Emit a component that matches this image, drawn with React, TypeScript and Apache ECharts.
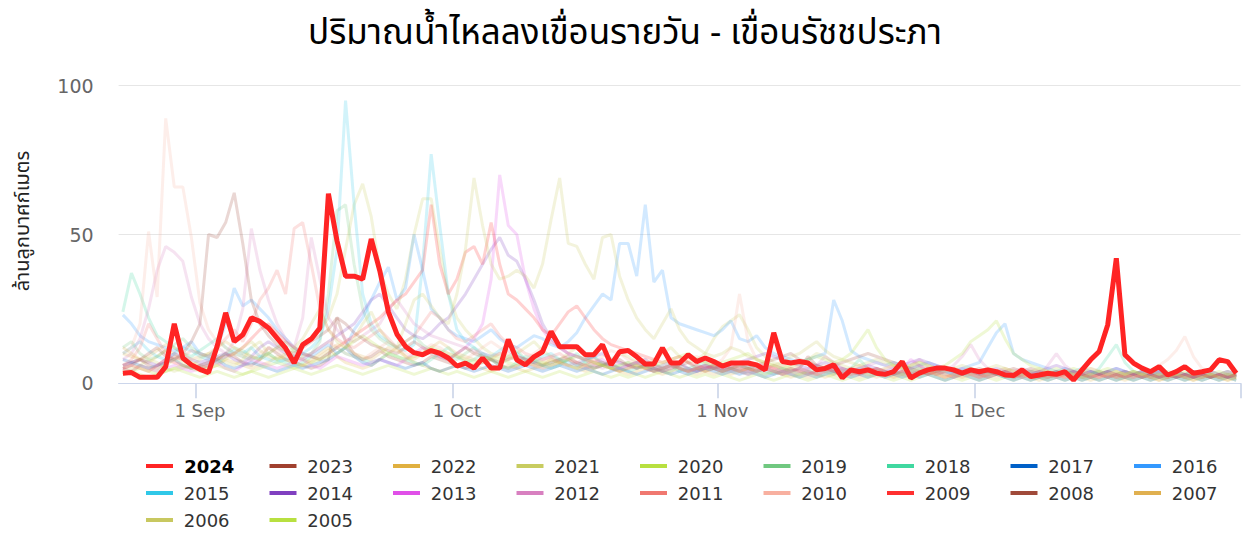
import React, { useEffect, useRef } from "react";
import * as echarts from "echarts";

const TITLE = "ปริมาณน้ำไหลลงเขื่อนรายวัน - เขื่อนรัชชประภา";
const Y_NAME = "ล้านลูกบาศก์เมตร";
const MONTHS = ["Jan", "Feb", "Mar", "Apr", "May", "Jun", "Jul", "Aug", "Sep", "Oct", "Nov", "Dec"];
const FIRST_DAY = { month: 7, day: 23 }; // 23 Aug
const DAY_COUNT = 131; // 23 Aug .. 31 Dec

const YEARS = ["2024", "2023", "2022", "2021", "2020", "2019", "2018", "2017", "2016", "2015",
  "2014", "2013", "2012", "2011", "2010", "2009", "2008", "2007", "2006", "2005"];
const COLORS = ["#ff2424", "#a0402e", "#e0b040", "#c8cc60", "#b8e040", "#70c880", "#40d8a0", "#0060c8", "#3399ff", "#30c8e8",
  "#8040c0", "#e050e8", "#d880c0", "#f07870", "#f8b0a0", "#ff3030", "#a04a3a", "#e0b050", "#c8c860", "#b8e040"];

const y2024 = [
  3.4, 3.6, 2.0, 2.0, 2.0, 5.6, 20, 8.5, 6.2, 4.7,
  3.6, 12.4, 23.7, 14, 16.3, 22, 20.8, 18.6, 15.2, 11.8,
  6.8, 13, 14.9, 18.6, 63.7, 47.9, 36, 36, 35, 48.5,
  37.8, 24, 16.5, 12.4, 10.3, 9.6, 11, 10.1, 8.5, 5.8,
  6.8, 5.1, 8.5, 5.1, 5.1, 14.7, 7.9, 6.2, 8.9, 10.6,
  17.4, 12.3, 12.3, 12.3, 9.6, 9.6, 13, 6.2, 10.6, 11,
  8.9, 6.5, 6.5, 11.9, 6.8, 6.8, 9.6, 7.3, 8.5, 7.3,
  5.8, 6.8, 6.8, 6.8, 6.2, 4.5, 17, 7.3, 6.8, 7.3,
  6.8, 4.5, 5, 6.2, 1.8, 4.5, 3.9, 4.5, 3.4, 3,
  3.9, 7.3, 1.8, 3.4, 4.5, 5.1, 5.1, 4.5, 3.4, 4.5,
  3.9, 4.5, 3.9, 2.8, 2.6, 4.5, 2.3, 2.8, 3.4, 3,
  3.9, 1.1, 4.5, 7.9, 10.7, 19.7, 42, 9.6, 6.8, 5.1,
  3.9, 5.6, 2.8, 3.9, 5.6, 3.4, 3.9, 4.5, 7.9, 7.3,
  3.4,
];
const y2023 = [
  6, 7, 8, 6, 5, 7, 9, 8, 6, 5,
  6, 8, 10, 9, 7, 6, 8, 12, 10, 8,
  7, 6, 5, 6, 8, 22, 14, 10, 8, 9,
  11, 9, 8, 7, 6, 7, 9, 8, 7, 6,
  5, 6, 7, 8, 6, 5, 6, 7, 6, 5,
  6, 7, 8, 6, 5, 6, 7, 5, 4, 5,
  6, 5, 4, 5, 6, 5, 4, 5, 6, 5,
  4, 5, 6, 5, 4, 5, 6, 5, 4, 5,
  9, 6, 5, 4, 5, 4, 3, 4, 5, 4,
  3, 4, 5, 4, 3, 4, 5, 4, 3, 4,
  3, 4, 3, 4, 5, 4, 3, 4, 3, 4,
  3, 4, 3, 4, 3, 4, 3, 4, 3, 2,
  3, 4, 3, 2, 3, 4, 3, 2, 3, 4,
  3,
];
const y2022 = [
  10, 9, 8, 7, 9, 11, 10, 8, 7, 6,
  5, 6, 8, 7, 6, 5, 6, 7, 9, 8,
  7, 6, 8, 10, 12, 9, 7, 6, 5, 6,
  8, 10, 12, 9, 7, 6, 5, 4, 5, 6,
  7, 6, 5, 4, 5, 6, 5, 4, 5, 6,
  8, 7, 6, 5, 4, 5, 6, 5, 4, 3,
  4, 5, 4, 3, 4, 5, 4, 3, 4, 5,
  4, 3, 4, 5, 4, 3, 4, 3, 2, 3,
  4, 3, 2, 3, 4, 3, 2, 3, 4, 3,
  2, 3, 2, 3, 4, 3, 2, 3, 2, 3,
  2, 3, 4, 3, 2, 3, 2, 1, 2, 3,
  2, 3, 2, 1, 2, 3, 2, 1, 2, 3,
  2, 1, 2, 3, 2, 1, 2, 3, 2, 1,
  2,
];
const y2021 = [
  5, 4, 6, 8, 7, 5, 4, 5, 6, 8,
  10, 9, 7, 6, 8, 12, 14, 10, 8, 9,
  11, 13, 15, 18, 22, 30, 45, 60, 67, 56,
  38, 30, 25, 35, 50, 62, 62, 45, 30, 22,
  18, 15, 12, 10, 9, 8, 10, 12, 14, 11,
  9, 8, 10, 12, 9, 7, 6, 8, 10, 9,
  7, 6, 8, 10, 12, 9, 7, 8, 10, 15,
  19, 21, 23, 18, 12, 9, 7, 6, 5, 6,
  8, 10, 9, 7, 6, 5, 6, 5, 4, 5,
  6, 5, 4, 5, 4, 3, 4, 5, 4, 3,
  4, 3, 4, 5, 4, 3, 4, 3, 2, 3,
  4, 3, 2, 3, 4, 3, 2, 3, 4, 3,
  2, 3, 2, 3, 2, 3, 2, 3, 2, 3,
  2,
];
const y2020 = [
  3, 4, 3, 2, 3, 4, 5, 4, 3, 2,
  3, 4, 3, 2, 3, 4, 3, 2, 3, 4,
  5, 4, 3, 4, 5, 6, 5, 4, 3, 4,
  5, 6, 5, 4, 3, 4, 5, 4, 3, 4,
  3, 2, 3, 4, 3, 2, 3, 4, 3, 2,
  3, 4, 3, 2, 3, 4, 3, 2, 3, 2,
  3, 2, 3, 4, 3, 2, 3, 2, 3, 2,
  3, 2, 1, 2, 3, 2, 1, 2, 3, 2,
  1, 2, 3, 2, 1, 2, 1, 2, 3, 2,
  1, 2, 1, 2, 3, 2, 1, 2, 1, 2,
  1, 2, 1, 2, 1, 2, 1, 2, 1, 2,
  1, 2, 1, 2, 1, 2, 1, 2, 1, 2,
  1, 2, 1, 2, 1, 2, 1, 2, 1, 2,
  1,
];
const y2019 = [
  12, 14, 10, 8, 9, 11, 13, 15, 12, 10,
  9, 8, 10, 12, 11, 9, 8, 10, 12, 14,
  11, 9, 10, 14, 30, 58, 60, 40, 25, 18,
  15, 13, 12, 14, 16, 13, 11, 10, 9, 8,
  10, 12, 9, 8, 7, 9, 11, 8, 7, 6,
  7, 8, 6, 5, 7, 9, 6, 5, 6, 7,
  5, 6, 7, 5, 4, 6, 5, 4, 5, 6,
  5, 4, 5, 6, 5, 4, 3, 4, 5, 4,
  3, 4, 5, 4, 3, 4, 5, 4, 3, 4,
  3, 4, 3, 4, 5, 4, 3, 4, 3, 4,
  3, 4, 3, 2, 3, 4, 3, 2, 3, 4,
  3, 2, 3, 4, 3, 2, 3, 4, 3, 2,
  3, 2, 3, 2, 3, 2, 3, 2, 3, 2,
  3,
];
const y2018 = [
  24, 37, 30, 22, 16, 14, 12, 10, 9, 11,
  13, 15, 12, 10, 9, 8, 9, 10, 8, 7,
  6, 7, 9, 8, 10, 12, 10, 9, 8, 7,
  8, 10, 9, 8, 7, 6, 8, 10, 12, 9,
  7, 8, 10, 8, 6, 5, 7, 9, 8, 6,
  5, 6, 8, 10, 7, 5, 6, 7, 5, 4,
  5, 6, 4, 5, 6, 4, 5, 6, 7, 5,
  4, 5, 6, 5, 4, 3, 4, 5, 4, 3,
  4, 5, 4, 3, 4, 5, 8, 5, 4, 3,
  4, 3, 4, 5, 4, 3, 4, 3, 4, 5,
  4, 3, 4, 3, 2, 3, 4, 3, 2, 3,
  4, 3, 2, 3, 5, 9, 13, 7, 4, 3,
  2, 3, 2, 3, 2, 3, 2, 3, 2, 3,
  2,
];
const y2017 = [
  8, 7, 6, 5, 6, 7, 8, 6, 5, 6,
  7, 8, 6, 5, 6, 7, 6, 5, 4, 5,
  6, 5, 6, 7, 8, 10, 12, 9, 7, 6,
  8, 7, 6, 5, 6, 7, 5, 4, 5, 6,
  5, 4, 5, 6, 5, 4, 5, 6, 5, 4,
  5, 6, 5, 4, 5, 4, 3, 4, 5, 4,
  3, 4, 5, 4, 3, 4, 3, 4, 5, 4,
  3, 4, 3, 4, 3, 2, 3, 4, 3, 2,
  3, 2, 3, 4, 3, 2, 3, 2, 3, 2,
  3, 2, 3, 2, 3, 2, 1, 2, 3, 2,
  1, 2, 3, 2, 1, 2, 1, 2, 1, 2,
  1, 2, 1, 2, 1, 2, 1, 2, 1, 2,
  1, 2, 1, 2, 1, 2, 1, 2, 1, 2,
  1,
];
const y2016 = [
  23, 20, 16, 14, 13, 12, 11, 12, 14, 10,
  9, 12, 20, 32, 26, 28, 25, 22, 18, 15,
  12, 10, 9, 11, 13, 10, 12, 18, 22, 28,
  34, 39, 28, 32, 50, 38, 25, 22, 18, 16,
  15, 14, 16, 18, 15, 13, 12, 14, 16, 15,
  13, 12, 14, 17, 22, 26, 30, 28, 47, 47,
  36, 60, 34, 38, 22, 20, 19, 18, 17, 16,
  18, 21, 15, 14, 16, 12, 10, 9, 8, 7,
  8, 9, 10, 28, 21, 11, 9, 8, 7, 6,
  7, 6, 5, 6, 7, 6, 5, 4, 5, 6,
  7, 12, 17, 20, 10, 8, 7, 6, 5, 4,
  5, 4, 5, 4, 3, 4, 5, 4, 3, 4,
  3, 4, 3, 4, 3, 4, 3, 4, 3, 4,
  3,
];
const y2015 = [
  10, 12, 14, 11, 9, 8, 10, 12, 11, 9,
  8, 7, 9, 11, 10, 12, 9, 8, 7, 8,
  9, 10, 12, 15, 25, 45, 95, 60, 30, 20,
  16, 14, 12, 11, 13, 40, 77, 53, 30, 18,
  14, 12, 10, 9, 11, 13, 10, 8, 7, 9,
  10, 8, 7, 6, 8, 9, 7, 6, 5, 6,
  7, 6, 5, 6, 7, 5, 4, 5, 6, 5,
  4, 5, 4, 3, 4, 5, 4, 3, 4, 5,
  4, 3, 4, 5, 4, 3, 4, 3, 4, 3,
  4, 3, 4, 3, 4, 5, 4, 3, 4, 3,
  2, 3, 4, 3, 2, 3, 4, 3, 2, 3,
  4, 3, 2, 3, 4, 3, 2, 3, 2, 3,
  2, 3, 2, 3, 2, 3, 2, 3, 2, 3,
  2,
];
const y2014 = [
  6, 7, 8, 7, 6, 8, 10, 9, 8, 7,
  8, 9, 10, 8, 7, 9, 12, 14, 12, 10,
  9, 8, 10, 12, 14, 16, 18, 20, 24, 28,
  30, 26, 22, 18, 16, 15, 17, 20, 22, 26,
  30, 35, 40, 45, 49, 43, 41, 35, 28, 20,
  15, 12, 10, 9, 8, 9, 10, 8, 7, 6,
  7, 8, 6, 5, 6, 7, 5, 4, 5, 6,
  5, 6, 7, 8, 9, 10, 9, 8, 7, 6,
  5, 6, 7, 6, 5, 4, 5, 6, 5, 4,
  5, 6, 7, 8, 7, 6, 5, 4, 5, 4,
  3, 4, 5, 4, 3, 4, 3, 4, 5, 6,
  5, 4, 3, 4, 3, 4, 5, 4, 3, 4,
  3, 4, 3, 2, 3, 2, 3, 4, 3, 2,
  3,
];
const y2013 = [
  5, 4, 6, 5, 4, 5, 6, 5, 4, 5,
  6, 7, 5, 4, 6, 8, 7, 6, 5, 6,
  7, 8, 6, 5, 7, 9, 8, 7, 6, 7,
  8, 7, 6, 8, 10, 12, 11, 9, 8, 10,
  12, 15, 20, 35, 70, 53, 50, 35, 25, 18,
  14, 12, 10, 9, 8, 7, 8, 6, 5, 6,
  7, 5, 4, 5, 6, 5, 4, 5, 6, 5,
  4, 5, 4, 3, 4, 5, 4, 3, 4, 5,
  4, 3, 4, 5, 4, 3, 4, 5, 4, 3,
  4, 5, 8, 6, 4, 3, 4, 3, 4, 3,
  2, 3, 4, 3, 2, 3, 4, 3, 2, 3,
  2, 3, 4, 3, 2, 3, 2, 3, 2, 3,
  2, 3, 2, 3, 2, 3, 2, 3, 2, 3,
  2,
];
const y2012 = [
  8, 10, 15, 25, 38, 46, 44, 41, 29, 20,
  15, 12, 10, 14, 25, 52, 38, 28, 20, 15,
  12, 22, 49, 35, 22, 18, 15, 14, 16, 18,
  20, 25, 28, 24, 20, 18, 16, 15, 14, 13,
  12, 11, 10, 9, 10, 11, 9, 8, 7, 8,
  9, 7, 6, 7, 8, 6, 5, 6, 7, 6,
  5, 6, 5, 4, 5, 6, 5, 4, 5, 6,
  5, 4, 5, 6, 5, 4, 5, 4, 3, 4,
  5, 6, 9, 7, 5, 4, 5, 6, 7, 6,
  5, 4, 6, 8, 6, 5, 4, 6, 9, 13,
  8, 5, 4, 3, 4, 5, 4, 3, 6, 10,
  6, 4, 3, 4, 3, 2, 3, 4, 3, 2,
  3, 2, 3, 4, 3, 2, 3, 2, 3, 2,
  3,
];
const y2011 = [
  6, 8, 12, 20, 15, 10, 8, 9, 11, 10,
  9, 12, 15, 18, 14, 20, 28, 32, 38, 30,
  52, 54, 40, 25, 18, 15, 13, 12, 14, 16,
  18, 15, 12, 14, 16, 20, 24, 22, 18, 15,
  14, 16, 18, 20, 16, 13, 12, 10, 9, 8,
  9, 10, 8, 7, 6, 8, 7, 6, 5, 6,
  7, 6, 5, 6, 7, 5, 4, 5, 6, 5,
  4, 5, 6, 5, 4, 5, 4, 3, 4, 5,
  4, 3, 4, 5, 4, 3, 4, 5, 4, 3,
  4, 3, 4, 3, 4, 3, 2, 3, 4, 3,
  2, 3, 4, 3, 2, 3, 2, 3, 2, 3,
  2, 3, 2, 3, 2, 3, 2, 3, 2, 3,
  2, 3, 2, 3, 2, 3, 2, 3, 2, 3,
  2,
];
const y2010 = [
  10, 12, 20, 51, 29, 89, 66, 66, 49, 27,
  18, 14, 12, 10, 9, 8, 10, 12, 11, 9,
  8, 9, 10, 12, 14, 12, 10, 9, 8, 10,
  12, 14, 12, 10, 9, 11, 13, 12, 10, 9,
  8, 10, 12, 14, 12, 10, 9, 8, 10, 12,
  14, 12, 10, 9, 8, 7, 9, 11, 10, 8,
  7, 8, 6, 5, 6, 7, 8, 9, 7, 6,
  8, 12, 30, 14, 8, 6, 5, 6, 7, 5,
  4, 5, 6, 5, 4, 5, 6, 5, 4, 5,
  6, 5, 4, 5, 4, 3, 4, 5, 4, 3,
  4, 3, 4, 5, 4, 3, 4, 3, 4, 3,
  4, 3, 4, 5, 4, 3, 4, 3, 4, 3,
  4, 6, 8, 11, 15.7, 9, 5, 4, 3, 4,
  3,
];
const y2009 = [
  5, 6, 5, 4, 6, 8, 7, 6, 5, 6,
  7, 8, 9, 10, 12, 15, 18, 20, 17, 14,
  12, 10, 9, 8, 10, 12, 14, 16, 18, 20,
  22, 25, 28, 30, 34, 38, 60, 40, 30, 35,
  44, 46, 40, 54, 40, 30, 28, 25, 22, 18,
  16, 20, 24, 26, 22, 18, 15, 13, 12, 11,
  10, 9, 8, 7, 8, 9, 7, 6, 5, 6,
  5, 6, 5, 4, 5, 6, 5, 4, 5, 4,
  3, 4, 5, 4, 3, 4, 3, 4, 5, 4,
  3, 4, 3, 4, 3, 4, 3, 2, 3, 4,
  3, 2, 3, 4, 3, 2, 3, 2, 3, 2,
  3, 2, 3, 2, 3, 2, 3, 2, 3, 2,
  3, 2, 3, 2, 3, 2, 3, 2, 3, 2,
  3,
];
const y2008 = [
  5, 6, 8, 10, 12, 9, 8, 10, 14, 20,
  50, 49, 54, 64, 47, 28, 20, 16, 13, 11,
  10, 12, 14, 16, 18, 22, 20, 17, 15, 13,
  12, 11, 10, 12, 14, 12, 10, 9, 8, 10,
  12, 10, 9, 8, 7, 8, 9, 8, 7, 6,
  7, 8, 9, 7, 6, 5, 6, 7, 8, 6,
  5, 6, 5, 4, 5, 6, 7, 5, 4, 5,
  6, 5, 4, 5, 6, 7, 8, 9, 10, 8,
  7, 6, 5, 6, 7, 8, 9, 10, 9, 8,
  7, 6, 5, 6, 5, 4, 5, 4, 3, 4,
  5, 4, 3, 4, 3, 4, 5, 4, 3, 4,
  3, 4, 3, 2, 3, 4, 3, 2, 3, 4,
  3, 2, 3, 4, 3, 2, 3, 2, 3, 2,
  3,
];
const y2007 = [
  12, 10, 8, 9, 11, 13, 12, 10, 8, 9,
  10, 12, 14, 12, 10, 9, 8, 10, 12, 11,
  9, 8, 7, 9, 11, 13, 12, 10, 9, 8,
  10, 12, 11, 9, 8, 10, 12, 14, 12, 10,
  9, 8, 7, 8, 10, 9, 8, 7, 6, 7,
  8, 7, 6, 5, 6, 7, 6, 5, 4, 5,
  6, 5, 4, 5, 6, 5, 4, 5, 4, 3,
  4, 5, 4, 3, 4, 5, 4, 3, 4, 3,
  2, 3, 4, 3, 2, 3, 4, 3, 2, 3,
  2, 3, 2, 3, 4, 3, 2, 3, 2, 3,
  2, 3, 2, 3, 2, 3, 2, 3, 2, 3,
  2, 3, 2, 3, 2, 3, 2, 3, 2, 3,
  2, 1, 2, 3, 2, 1, 2, 3, 2, 1,
  2,
];
const y2006 = [
  4, 5, 6, 5, 4, 6, 8, 7, 6, 5,
  6, 7, 8, 10, 12, 14, 11, 9, 8, 10,
  12, 15, 20, 25, 18, 14, 12, 15, 20, 24,
  18, 14, 12, 20, 28, 30, 26, 22, 20, 30,
  45, 69, 53, 40, 35, 36, 38, 36, 32, 40,
  55, 69, 47, 46, 40, 35, 49, 50, 36, 28,
  22, 18, 15, 20, 25, 18, 14, 12, 10, 9,
  10, 12, 11, 9, 8, 7, 6, 7, 9, 10,
  12, 14, 11, 9, 8, 7, 6, 7, 8, 7,
  6, 5, 6, 7, 6, 5, 4, 5, 6, 5,
  4, 5, 6, 5, 4, 3, 4, 5, 4, 3,
  4, 3, 4, 5, 4, 3, 4, 3, 4, 3,
  2, 3, 2, 3, 2, 3, 2, 3, 2, 3,
  2,
];
const y2005 = [
  3, 4, 5, 4, 3, 4, 5, 6, 5, 4,
  5, 6, 5, 4, 3, 4, 5, 6, 7, 6,
  5, 6, 7, 8, 9, 10, 12, 14, 16, 14,
  12, 10, 9, 8, 9, 10, 12, 11, 10, 9,
  8, 7, 8, 9, 8, 7, 6, 7, 8, 7,
  6, 7, 8, 9, 8, 7, 6, 5, 6, 7,
  6, 5, 6, 7, 8, 9, 10, 8, 7, 6,
  7, 8, 9, 10, 8, 7, 6, 5, 6, 7,
  8, 9, 8, 7, 8, 10, 14, 18, 12, 8,
  6, 5, 6, 7, 6, 5, 6, 8, 10, 14,
  16, 18, 21, 15, 10, 8, 6, 5, 4, 5,
  4, 5, 4, 3, 4, 5, 4, 3, 4, 3,
  4, 3, 4, 3, 4, 3, 4, 3, 4, 3,
  3,
];

const SERIES_DATA = [y2024, y2023, y2022, y2021, y2020, y2019, y2018, y2017, y2016, y2015,
  y2014, y2013, y2012, y2011, y2010, y2009, y2008, y2007, y2006, y2005];

function buildCategories(): string[] {
  const out: string[] = [];
  const d = new Date(Date.UTC(2024, FIRST_DAY.month, FIRST_DAY.day));
  for (let i = 0; i < DAY_COUNT; i++) {
    out.push(`${d.getUTCDate()} ${MONTHS[d.getUTCMonth()]}`);
    d.setUTCDate(d.getUTCDate() + 1);
  }
  return out;
}

const FONT = '"DejaVu Sans", sans-serif';
const THAI_FONT = '"Noto Sans Thai", "Noto Sans", "DejaVu Sans", sans-serif';

export default function App() {
  const ref = useRef<HTMLDivElement>(null);
  useEffect(() => {
    if (!ref.current) return;
    const chart = echarts.init(ref.current, undefined, { renderer: "svg" });
    const categories = buildCategories();
    const isMonthStart = (_i: number, v: string) => v.startsWith("1 ");
    const series = YEARS.map((y, k) => {
      const main = k === 0;
      return {
        name: y,
        type: "line",
        data: SERIES_DATA[k],
        showSymbol: false,
        silent: true,
        z: main ? 5 : 2,
        itemStyle: { color: COLORS[k] },
        lineStyle: { width: main ? 5 : 3, opacity: main ? 1 : 0.22, color: COLORS[k] },
        emphasis: { disabled: true },
      };
    });
    chart.setOption({
      animation: false,
      title: {
        text: TITLE,
        left: "center",
        top: 11,
        textStyle: { fontSize: 35, fontWeight: "normal", color: "#000", fontFamily: THAI_FONT },
      },
      grid: { left: 118.6, right: 9.5, top: 85.7, bottom: 163.7, containLabel: false },
      xAxis: {
        type: "category",
        data: categories,
        boundaryGap: true,
        axisLine: { lineStyle: { color: "#ccd6eb", width: 1 } },
        axisTick: { show: true, interval: isMonthStart, alignWithLabel: false, length: 15, lineStyle: { color: "#c6d0e6", width: 1.5 } },
        axisLabel: { interval: isMonthStart, color: "#666", fontSize: 18, margin: 18, fontFamily: FONT },
        splitLine: { show: false },
      },
      yAxis: {
        type: "value",
        min: 0,
        max: 100,
        interval: 50,
        axisLine: { show: false },
        axisTick: { show: false },
        axisLabel: { color: "#666", fontSize: 19, margin: 25, fontFamily: FONT },
        splitLine: { lineStyle: { color: "#e6e6e6", width: 1 } },
      },
      legend: {
        left: 141,
        top: 450,
        width: 1120,
        icon: "rect",
        itemWidth: 27,
        itemHeight: 4,
        itemGap: 5,
        formatter: (name: string) => "\u00a0" + name,
        textStyle: { fontSize: 18, color: "#333", fontFamily: FONT, width: 86.5, lineHeight: 22 },
        data: YEARS.map((y, k) =>
          k === 0 ? { name: y, textStyle: { fontWeight: "bold", color: "#000" } } : { name: y }
        ),
      },
      graphic: [
        {
          type: "text",
          x: 23,
          y: 221,
          rotation: Math.PI / 2,
          style: {
            text: Y_NAME,
            fontSize: 20,
            fill: "#222",
            fontFamily: THAI_FONT,
            align: "center",
            verticalAlign: "middle",
          },
        },
      ],
      series,
    });
    return () => chart.dispose();
  }, []);
  return (
    <div
      ref={ref}
      style={{ position: "fixed", left: 0, top: 0, width: 1250, height: 547, background: "#fff" }}
    />
  );
}
